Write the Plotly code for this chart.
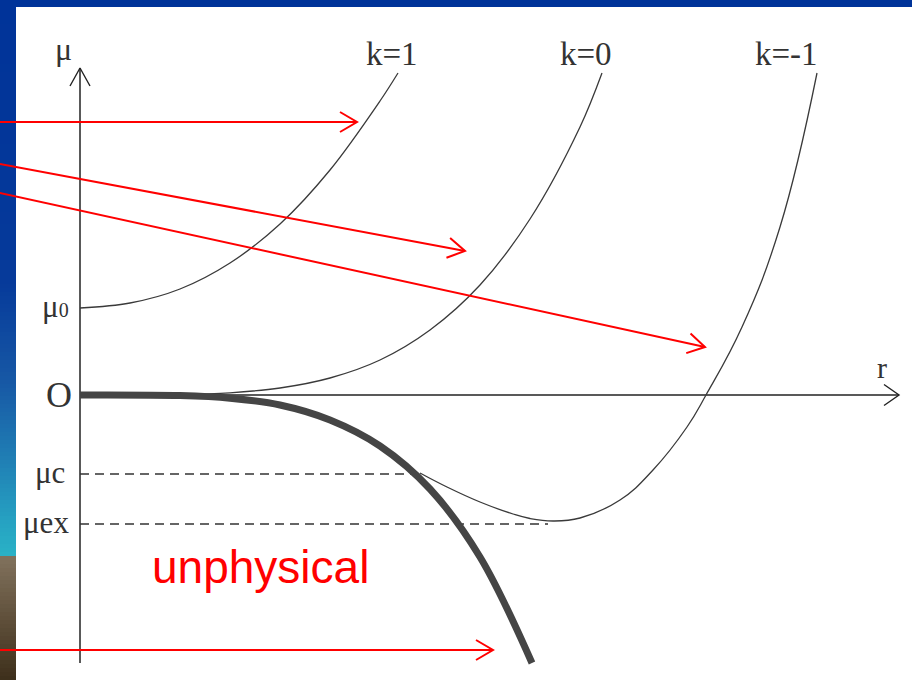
import plotly.graph_objects as go
import numpy as np

# ---- curve data: chemical potential mu versus radius r ----
R_K1 = [0.0, 0.5, 1.0, 1.5, 2.0, 2.5, 3.0, 3.18]
MU_K1 = [0.87, 0.92, 1.06, 1.32, 1.71, 2.25, 2.94, 3.22]

R_K0 = [0.0, 1.0, 1.5, 2.0, 2.5, 3.0, 3.5, 4.0, 4.5, 5.0, 5.22]
MU_K0 = [0.0, 0.004, 0.022, 0.07, 0.17, 0.35, 0.65, 1.10, 1.76, 2.68, 3.22]

R_KM1 = [3.40, 3.67, 4.0, 4.33, 4.5, 4.73, 5.0, 5.4, 5.73, 6.07, 6.26, 6.62, 7.0, 7.37]
MU_KM1 = [-0.78, -0.92, -1.07, -1.19, -1.235, -1.26, -1.23, -1.05, -0.75, -0.32, 0.0, 0.68, 1.68, 3.22]

# boundary of the physical region (thick curve)
R_BOUND = [0.0, 1.0, 1.5, 2.0, 2.5, 3.0, 3.5, 4.0, 4.52]
MU_BOUND = [0.0, -0.006, -0.032, -0.10, -0.25, -0.51, -0.94, -1.62, -2.68]

MU_0 = 0.87
MU_C = -0.79
MU_EX = -1.29
R_MU_C_END = 3.35
R_MU_EX_END = 4.68

CURVE_LABELS = ["k=1", "k=0", "k=-1"]
LEVEL_LABELS = ["μ<span style='font-size:20px'>0</span>", "O", "μc", "μex"]

# axis extents
R_AXIS_END = 8.19
MU_AXIS_TOP = 3.27
MU_AXIS_BOTTOM = -2.68

# pointer arrows (start, tip) used on the slide
ARROW_START_R = -0.85
ARROW_START_MU = [2.73, 2.32, 2.03, -2.55]
ARROW_TIP_R = [2.77, 3.85, 6.25, 4.13]
ARROW_TIP_MU = [2.73, 1.44, 0.48, -2.55]

X_RANGE = [-0.8, 8.32]
Y_RANGE = [-2.85, 3.95]

INK = "#3a3a3a"
RED = "#ff0000"


def chevron(x0, y0, x1, y1, back=0.17, half=0.10):
    """Open arrowhead at (x1, y1) for a segment from (x0, y0)."""
    d = np.array([x1 - x0, y1 - y0], float)
    d /= np.linalg.norm(d)
    n = np.array([-d[1], d[0]])
    tip = np.array([x1, y1])
    a = tip - back * d + half * n
    b = tip - back * d - half * n
    return [a[0], tip[0], b[0]], [a[1], tip[1], b[1]]


fig = go.Figure()


def line(x, y, color=INK, width=1.3, dash=None, shape="linear", smoothing=1.0):
    fig.add_trace(go.Scatter(
        x=x, y=y, mode="lines", hoverinfo="skip", showlegend=False,
        line=dict(color=color, width=width, dash=dash, shape=shape,
                  smoothing=smoothing if shape == "spline" else None),
    ))


# axes with open arrowheads
line([0, R_AXIS_END], [0, 0], color="#222222", width=1.5)
line(*chevron(0, 0, R_AXIS_END, 0, back=0.15, half=0.105), color="#222222", width=1.4)
line([0, 0], [MU_AXIS_BOTTOM, MU_AXIS_TOP], color="#222222", width=1.5)
line(*chevron(0, MU_AXIS_BOTTOM, 0, MU_AXIS_TOP, back=0.18, half=0.10), color="#222222", width=1.4)

# dashed reference levels
line([0, R_MU_C_END], [MU_C, MU_C], color="#333333", width=1.4, dash="9px,6px")
line([0, R_MU_EX_END], [MU_EX, MU_EX], color="#333333", width=1.4, dash="9px,6px")

# family of curves
line(R_K1, MU_K1, shape="spline")
line(R_K0, MU_K0, shape="spline")
line(R_KM1, MU_KM1, shape="spline", smoothing=1.2)
line(R_BOUND, MU_BOUND, color="#454545", width=7, shape="spline")

# red pointer arrows
for smu, tr, tmu in zip(ARROW_START_MU, ARROW_TIP_R, ARROW_TIP_MU):
    line([ARROW_START_R, tr], [smu, tmu], color=RED, width=2)
    line(*chevron(ARROW_START_R, smu, tr, tmu), color=RED, width=2)

serif = "Liberation Serif, Times New Roman, serif"
ann = []

# curve labels above the upper ends
tops = [(R_K1[-1], MU_K1[-1], -6), (R_K0[-1], MU_K0[-1], -16), (R_KM1[-1], MU_KM1[-1], -31)]
for text, (r, mu, dx) in zip(CURVE_LABELS, tops):
    ann.append(dict(x=r, y=mu, text=text, showarrow=False, xanchor="center", yanchor="bottom",
                    xshift=dx, yshift=-1, font=dict(family=serif, size=33, color="#333333")))

# level labels left of the mu axis
for text, val, size, dy, dx in zip(LEVEL_LABELS, [MU_0, 0.0, MU_C, MU_EX],
                                   [31, 36, 31, 31], [2, 0, 2, 2], [-9, -6, -13, -9]):
    ann.append(dict(x=0, y=val, text=text, showarrow=False, xanchor="right", yanchor="middle",
                    xshift=dx, yshift=dy,
                    font=dict(family=serif, size=size, color="#333333")))

# axis names
ann.append(dict(x=0, y=MU_AXIS_TOP, text="μ", showarrow=False, xanchor="center", yanchor="middle",
                xshift=-17, yshift=19, font=dict(family=serif, size=32, color="#333333")))
ann.append(dict(x=R_AXIS_END, y=0, text="r", showarrow=False, xanchor="center", yanchor="middle",
                xshift=-17, yshift=28, font=dict(family=serif, size=30, color="#333333")))

# region label
ann.append(dict(x=0.70, y=-1.72, text="unphysical", showarrow=False, xanchor="left", yanchor="middle",
                font=dict(family="Liberation Sans, Arial, sans-serif", size=46, color=RED)))

# slide frame: top band and left strip with its colour gradient
W, H = 912.0, 680.0
shapes = [dict(type="rect", xref="paper", yref="paper", x0=0, x1=1, y0=1 - 7 / H, y1=1,
               fillcolor="#003399", line=dict(width=0), layer="below")]


def strip(stops, start, stop):
    for y in np.arange(start, stop, 4):
        for (ya, ca), (yb, cb) in zip(stops[:-1], stops[1:]):
            if ya <= y <= yb:
                t = (y - ya) / (yb - ya)
                c = tuple(int(round(ca[i] + t * (cb[i] - ca[i]))) for i in range(3))
                break
        shapes.append(dict(type="rect", xref="paper", yref="paper", x0=0, x1=16 / W,
                           y0=1 - (y + 4.5) / H, y1=1 - y / H, fillcolor="rgb(%d,%d,%d)" % c,
                           line=dict(width=0), layer="below"))


strip([(0, (0, 51, 153)), (280, (6, 58, 154)), (380, (23, 88, 165)), (460, (32, 128, 181)),
       (520, (38, 162, 194)), (556, (42, 179, 198))], 0, 556)
strip([(556, (128, 113, 92)), (620, (94, 78, 57)), (680, (60, 46, 26))], 556, 680)

fig.update_layout(
    width=912, height=680,
    margin=dict(l=0, r=0, t=0, b=0),
    paper_bgcolor="white", plot_bgcolor="rgba(0,0,0,0)",
    xaxis=dict(range=X_RANGE, visible=False, fixedrange=True),
    yaxis=dict(range=Y_RANGE, visible=False, fixedrange=True),
    annotations=ann, shapes=shapes, showlegend=False,
)

fig.write_html("out.html", config={"displayModeBar": False})
